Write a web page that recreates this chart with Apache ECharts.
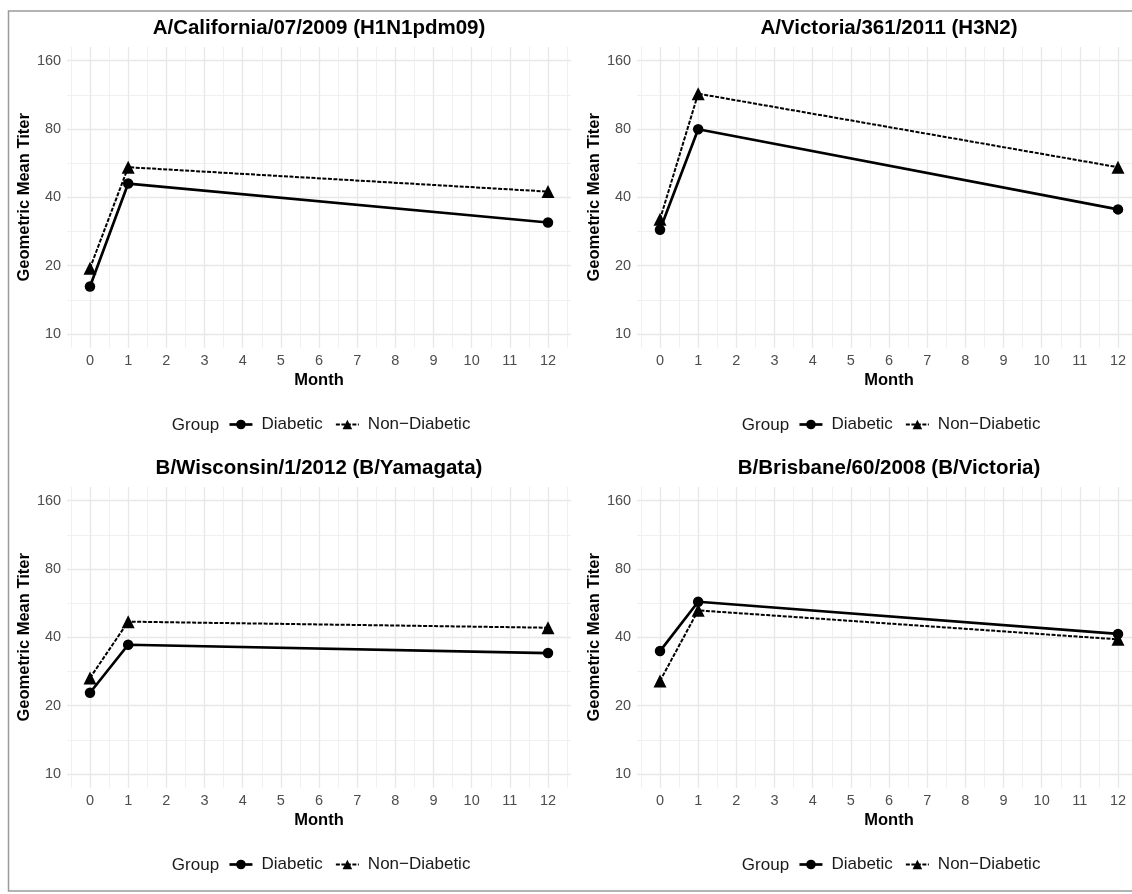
<!DOCTYPE html>
<html>
<head>
<meta charset="utf-8">
<script src="https://cdn.jsdelivr.net/npm/echarts@6/dist/echarts.min.js"></script>
<style>
html,body{margin:0;padding:0;background:#fff;}
#chart{width:1132px;height:894px;}
</style>
</head>
<body>
<div id="chart"></div>
<script>
// ---- data ----
const months = [0, 1, 12];
const panelTitles = [
  'A/California/07/2009 (H1N1pdm09)',
  'A/Victoria/361/2011 (H3N2)',
  'B/Wisconsin/1/2012 (B/Yamagata)',
  'B/Brisbane/60/2008 (B/Victoria)'
];
const diabetic_cal = [16.2, 46.0, 31.0];
const nondiabetic_cal = [19.5, 54.3, 42.4];
const diabetic_vic = [28.8, 79.8, 35.4];
const nondiabetic_vic = [32.0, 114.5, 54.3];
const diabetic_wis = [22.8, 37.1, 34.1];
const nondiabetic_wis = [26.5, 46.9, 44.1];
const diabetic_bri = [34.8, 57.4, 41.4];
const nondiabetic_bri = [25.7, 52.6, 39.2];
const xTicks = [0,1,2,3,4,5,6,7,8,9,10,11,12];
const yTicks = [10, 20, 40, 80, 160];
const groupNames = ['Diabetic', 'Non\u2212Diabetic'];

const diabeticSets = [diabetic_cal, diabetic_vic, diabetic_wis, diabetic_bri];
const nonSets = [nondiabetic_cal, nondiabetic_vic, nondiabetic_wis, nondiabetic_bri];

// ---- layout ----
const FONT = 'Liberation Sans, Arial, sans-serif';
const xMinor = xTicks.map(v => v - 0.5).concat([12.5]);
const yMinor = [];
for (let i = 0; i < yTicks.length - 1; i++) yMinor.push(Math.sqrt(yTicks[i] * yTicks[i + 1]));
const yMin = 10 * Math.pow(2, -0.2), yMax = 160 * Math.pow(2, 0.2);
const panels = [
  {x: 67.1, y: 47}, {x: 637.1, y: 47}, {x: 67.1, y: 487}, {x: 637.1, y: 487}
];
const GW = 503.8, GH = 300.7;

const grids = [], xAxes = [], yAxes = [], series = [], titles = [], legends = [], graphics = [];
panels.forEach((p, i) => {
  grids.push({left: p.x, top: p.y, width: GW, height: GH, outerBoundsMode: 'none', containLabel: false});
  const major = {color: '#e8e8e8', width: 1.4};
  const minor = {color: '#eeeeee', width: 0.9};
  xAxes.push({
    type: 'value', gridIndex: i, min: -0.6, max: 12.6,
    name: 'Month', nameLocation: 'middle', nameGap: 24,
    nameTextStyle: {fontFamily: FONT, fontWeight: 'bold', fontSize: 16.5, color: '#000'},
    axisLine: {show: false},
    axisTick: {show: false, customValues: xTicks},
    axisLabel: {customValues: xTicks, margin: 6, fontFamily: FONT, fontSize: 14.5, color: '#4d4d4d'},
    splitLine: {show: true, lineStyle: major}
  });
  xAxes.push({
    type: 'value', gridIndex: i, min: -0.6, max: 12.6,
    axisLine: {show: false},
    axisTick: {show: false, customValues: xMinor},
    axisLabel: {show: false, customValues: xMinor},
    splitLine: {show: true, lineStyle: minor}
  });
  yAxes.push({
    type: 'log', logBase: 2, gridIndex: i, min: yMin, max: yMax,
    name: 'Geometric Mean Titer', nameLocation: 'middle', nameGap: 33, nameRotate: 90,
    nameTextStyle: {fontFamily: FONT, fontWeight: 'bold', fontSize: 16.5, color: '#000'},
    axisLine: {show: false},
    axisTick: {show: false, customValues: yTicks},
    axisLabel: {customValues: yTicks, margin: 6, fontFamily: FONT, fontSize: 14.5, color: '#4d4d4d'},
    splitLine: {show: true, lineStyle: major}
  });
  yAxes.push({
    type: 'log', logBase: 2, gridIndex: i, min: yMin, max: yMax,
    axisLine: {show: false},
    axisTick: {show: false, customValues: yMinor},
    axisLabel: {show: false, customValues: yMinor},
    splitLine: {show: true, lineStyle: minor}
  });
  series.push({
    type: 'line', name: groupNames[0], xAxisIndex: 2 * i, yAxisIndex: 2 * i,
    data: months.map((m, k) => [m, diabeticSets[i][k]]),
    symbol: 'circle', symbolSize: 10.5,
    lineStyle: {color: '#000', width: 2.7, type: 'solid'},
    itemStyle: {color: '#000'}, z: 4, animation: false
  });
  series.push({
    type: 'line', name: groupNames[1], xAxisIndex: 2 * i, yAxisIndex: 2 * i,
    data: months.map((m, k) => [m, nonSets[i][k]]),
    symbol: 'triangle', symbolSize: 13,
    lineStyle: {color: '#000', width: 2, type: [4, 1.5]},
    itemStyle: {color: '#000'}, z: 3, animation: false
  });
  const cx = p.x + GW / 2;
  titles.push({
    text: panelTitles[i], left: cx, top: p.y - 29, textAlign: 'center', padding: 0,
    textStyle: {fontFamily: FONT, fontWeight: 'bold', fontSize: 20.5, color: '#000'}
  });
  const ly = p.y + 377;
  legends.push({
    left: p.x + 161, top: ly - 8, padding: 0, itemGap: 12, itemWidth: 23, itemHeight: 12,
    data: groupNames, selectedMode: false,
    lineStyle: {width: 'inherit'},
    textStyle: {fontFamily: FONT, fontSize: 17, color: '#1a1a1a', padding: [0, 0, 0, 4]}
  });
  graphics.push({
    type: 'text', x: p.x + 152, y: ly + 1, style: {
      text: 'Group', fill: '#1a1a1a', font: '17px ' + FONT, textAlign: 'right', textVerticalAlign: 'middle'
    }
  });
});
graphics.push({
  type: 'rect', shape: {x: 8.5, y: 11, width: 1140, height: 880},
  style: {fill: 'none', stroke: '#9a9a9a', lineWidth: 1.5}, silent: true
});

const chart = echarts.init(document.getElementById('chart'), null, {renderer: 'canvas'});
chart.setOption({
  animation: false,
  backgroundColor: '#fff',
  title: titles,
  legend: legends,
  grid: grids,
  xAxis: xAxes,
  yAxis: yAxes,
  series: series,
  graphic: graphics
});
</script>
</body>
</html>
